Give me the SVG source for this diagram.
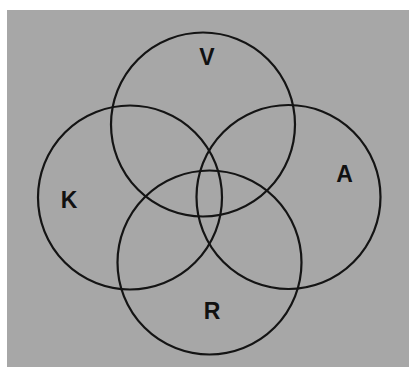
<svg xmlns="http://www.w3.org/2000/svg" width="409" height="377" viewBox="0 0 409 377">
<style>
.c{fill:none;stroke:#141414;stroke-width:2.2}
.t{font-family:"Liberation Sans",Arial,sans-serif;font-weight:bold;font-size:23px;fill:#111;text-anchor:middle}
</style>
<rect x="0" y="0" width="409" height="377" fill="#ffffff"/>
<rect x="7" y="10" width="402" height="357" fill="#a7a7a7"/>
<g id="V"><circle class="c" cx="203" cy="124.5" r="92"/><text class="t" x="207" y="65">V</text></g>
<g id="K"><circle class="c" cx="130" cy="197.5" r="92"/><text class="t" x="69" y="208">K</text></g>
<g id="A"><circle class="c" cx="288.5" cy="197" r="92"/><text class="t" x="344.5" y="182">A</text></g>
<g id="R"><circle class="c" cx="209.5" cy="262.5" r="92"/><text class="t" x="212" y="319">R</text></g>
<g id="connectors"></g>
</svg>
